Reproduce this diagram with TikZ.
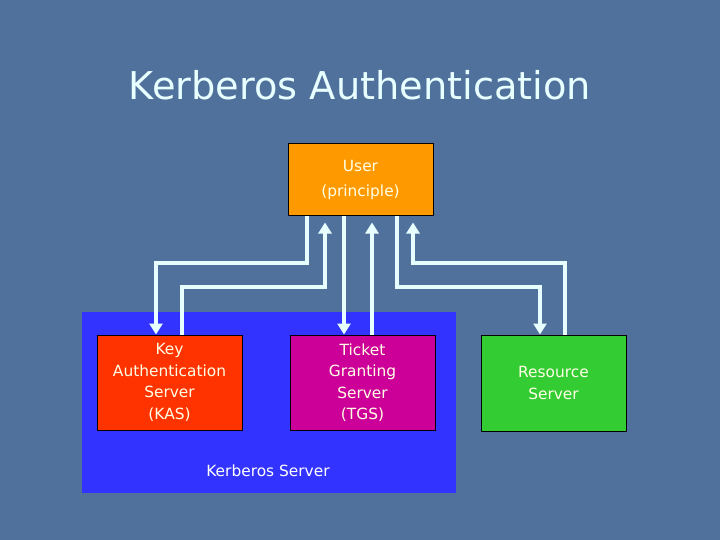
\documentclass[tikz,border=0pt]{standalone}
\usepackage{fontspec}
\setmainfont{DejaVu Sans}
\usetikzlibrary{arrows.meta}
\definecolor{bg}{HTML}{4F719B}
\definecolor{lt}{HTML}{E8FFFF}
\definecolor{cream}{HTML}{FFFFE6}
\definecolor{uorange}{HTML}{FF9900}
\definecolor{kred}{HTML}{FF3300}
\definecolor{tmag}{HTML}{CC0099}
\definecolor{rgreen}{HTML}{33CC33}
\definecolor{kblue}{HTML}{3333FF}
\tikzset{
  box/.style={draw=black, line width=1pt, minimum width=145pt, align=center,
    text=cream, font=\fontsize{15.4}{21.5}\selectfont, inner sep=0pt},
  arr/.style={draw=lt, line width=3.8pt, -{Triangle[width=13pt,length=11pt]}},
  arrup/.style={arr, shorten >=6pt}
}
\begin{document}
\begin{tikzpicture}[x=1pt,y=-1pt]
\fill[bg] (0,0) rectangle (720,540);
\useasboundingbox (0,0) rectangle (720,540);
\node[text=lt, font=\fontsize{38.3}{44}\selectfont] (title) at (360,85) {Kerberos Authentication};
\node[fill=kblue, minimum width=374pt, minimum height=181pt, inner sep=0pt, anchor=north west] (ks) at (82,312) {};
\node[text=white, font=\fontsize{15.4}{21.5}\selectfont, anchor=base] (kslabel) at (268,476) {Kerberos Server};
\node[box, fill=uorange, minimum height=72pt, font=\fontsize{15.4}{25}\selectfont] (user) at (360.5,180) {User\\(principle)};
\node[box, fill=kred, minimum height=95pt] (kas) at (169.5,382.5) {Key\\Authentication\\Server\\(KAS)};
\node[box, fill=tmag, minimum height=95pt] (tgs) at (362.5,382.5) {Ticket\\Granting\\Server\\(TGS)};
\node[box, fill=rgreen, minimum height=96pt] (res) at (553.5,383) {Resource\\Server};
\draw[arr] (307,0 |- user.south) -- (307,263) -- (156,263) -- (156,0 |- kas.north);
\draw[arrup] (182,0 |- kas.north) -- (182,287) -- (325,287) -- (325,0 |- user.south);
\draw[arr] (344,0 |- user.south) -- (344,0 |- tgs.north);
\draw[arrup] (372,0 |- tgs.north) -- (372,0 |- user.south);
\draw[arr] (397,0 |- user.south) -- (397,287) -- (540,287) -- (540,0 |- res.north);
\draw[arrup] (565,0 |- res.north) -- (565,263) -- (413,263) -- (413,0 |- user.south);
\end{tikzpicture}
\end{document}
